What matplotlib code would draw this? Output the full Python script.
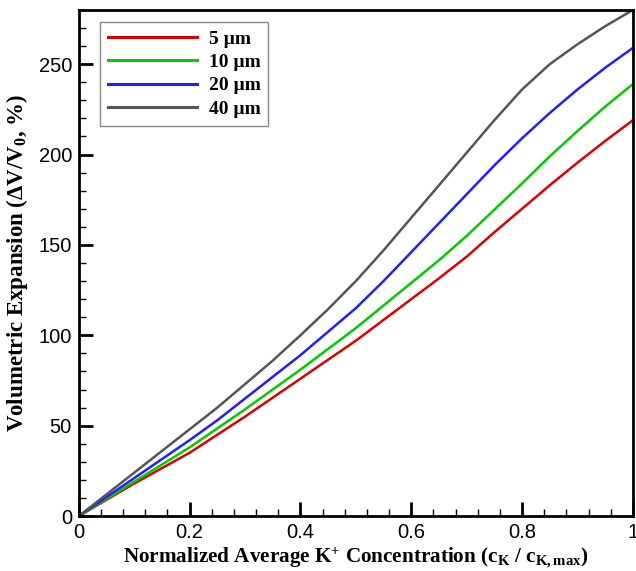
import matplotlib.pyplot as plt
from matplotlib.ticker import MultipleLocator

plt.rcParams['mathtext.fontset'] = 'custom'
plt.rcParams['mathtext.rm'] = 'Liberation Serif:bold'
plt.rcParams['mathtext.it'] = 'Liberation Serif:bold'
plt.rcParams['mathtext.bf'] = 'Liberation Serif:bold'

conc = [0.0, 0.05, 0.1, 0.15, 0.2, 0.25, 0.3, 0.35, 0.4, 0.45, 0.5,
        0.55, 0.6, 0.65, 0.7, 0.75, 0.8, 0.85, 0.9, 0.95, 1.0]
exp_5 = [0, 9, 18, 26.5, 35, 45, 55, 65.5, 76, 86.5, 97,
         108.5, 120, 131.5, 143.5, 157, 170, 183, 195.5, 207.5, 219]
exp_10 = [0, 9.5, 19, 28.5, 38, 48.5, 59, 70, 81, 92.5, 104,
          116.5, 129, 141.5, 155, 169.5, 184, 199, 213, 226.5, 239]
exp_20 = [0, 10.5, 21, 31.5, 42, 53, 65, 77, 89, 102, 115,
          130, 146, 162, 178, 194, 209, 223, 236, 248, 259]
exp_40 = [0, 12, 24, 36, 48, 60, 73, 86, 100, 114.5, 130,
          147, 165, 183, 201, 219, 236, 250, 261, 271, 280]
labels = ['5 \u00b5m', '10 \u00b5m', '20 \u00b5m', '40 \u00b5m']
colors = ['#dd0000', '#00cc00', '#1f1fff', '#555555']

fig = plt.figure(figsize=(6.36, 5.71), dpi=100)
ax = fig.add_axes([0.124, 0.0963, 0.871, 0.8862])

for y, lab, c in zip([exp_5, exp_10, exp_20, exp_40], labels, colors):
    ax.plot(conc, y, color=c, lw=1.8, label=lab)

ax.set_xlim(0, 1)
ax.set_ylim(0, 280)
ax.xaxis.set_major_locator(MultipleLocator(0.2))
ax.xaxis.set_minor_locator(MultipleLocator(0.04))
ax.yaxis.set_major_locator(MultipleLocator(50))
ax.yaxis.set_minor_locator(MultipleLocator(10))
ax.set_xticks([0, 0.2, 0.4, 0.6, 0.8, 1.0])
ax.set_xticklabels(['0', '0.2', '0.4', '0.6', '0.8', '1'])
ax.tick_params(which='major', direction='in', length=10, width=2, labelsize=14.5, pad=5)
ax.tick_params(which='minor', direction='in', length=5, width=1)
for t in ax.get_xticklabels() + ax.get_yticklabels():
    t.set_fontfamily('Liberation Sans')
for s in ax.spines.values():
    s.set_linewidth(2)

ax.set_xlabel('Normalized Average K$^{+}$ Concentration (c$_{K}$ / c$_{K,max}$)',
              fontfamily='Liberation Serif', fontweight='bold', fontsize=15.2)
ax.set_ylabel('Volumetric Expansion (\u0394V/V$_{0}$, %)',
              fontfamily='Liberation Serif', fontweight='bold', fontsize=16.5)
ax.xaxis.set_label_coords(0.5, -0.058)
ax.yaxis.set_label_coords(-0.088, 0.5)

leg = ax.legend(loc='upper left', bbox_to_anchor=(0.038, 0.976), borderaxespad=0,
                handlelength=4.6, prop={'family': 'Liberation Serif', 'weight': 'bold', 'size': 14},
                fancybox=False, edgecolor='#888888', framealpha=1,
                borderpad=0.4, labelspacing=0.3, handletextpad=0.6)
leg.get_frame().set_linewidth(1)
for ln in leg.get_lines():
    ln.set_linewidth(2.2)

fig.savefig('out.png', dpi=100)
